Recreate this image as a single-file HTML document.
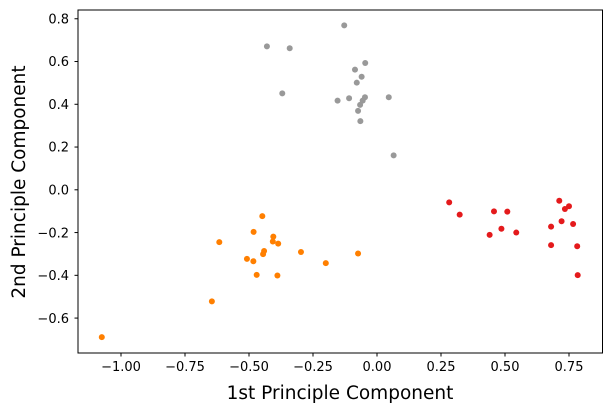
<!DOCTYPE html>
<html><head><meta charset="utf-8"><style>
body{margin:0;background:#fff;font-family:"Liberation Sans","DejaVu Sans",sans-serif}
svg text{font-family:"DejaVu Sans","Liberation Sans",sans-serif}
</style></head><body>
<svg id="chart" width="611" height="411">
<rect x="78" y="10" width="524.5" height="343" fill="none" stroke="#000" stroke-width="1"/>
<g id="marks"></g><g id="axes"></g>
<text x="340" y="399" font-size="18.5" text-anchor="middle">1st Principle Component</text>
<text transform="translate(25,182) rotate(-90)" font-size="18.5" text-anchor="middle">2nd Principle Component</text>
</svg>
<script>
const grayX=[-0.128,-0.430,-0.341,-0.046,-0.086,-0.060,-0.079,-0.370,-0.154,-0.109,-0.047,-0.056,-0.066,0.046,-0.074,-0.065,0.065];
const grayY=[0.769,0.671,0.662,0.593,0.562,0.529,0.501,0.451,0.417,0.428,0.433,0.417,0.397,0.433,0.369,0.321,0.161];
const orangeX=[-0.448,-0.482,-0.405,-0.407,-0.386,-0.616,-0.441,-0.445,-0.297,-0.508,-0.483,-0.074,-0.200,-0.470,-0.389,-0.645,-1.075];
const orangeY=[-0.123,-0.197,-0.219,-0.242,-0.252,-0.245,-0.286,-0.301,-0.291,-0.323,-0.334,-0.298,-0.343,-0.398,-0.401,-0.522,-0.689];
const redX=[0.282,0.323,0.457,0.509,0.486,0.440,0.544,0.712,0.734,0.750,0.721,0.766,0.680,0.680,0.782,0.784];
const redY=[-0.059,-0.116,-0.101,-0.102,-0.182,-0.211,-0.200,-0.051,-0.090,-0.077,-0.147,-0.160,-0.172,-0.259,-0.264,-0.399];
const xTicks=[-1.00,-0.75,-0.50,-0.25,0.00,0.25,0.50,0.75];
const xTickLabels=["−1.00","−0.75","−0.50","−0.25","0.00","0.25","0.50","0.75"];
const yTicks=[-0.6,-0.4,-0.2,0.0,0.2,0.4,0.6,0.8];
const yTickLabels=["−0.6","−0.4","−0.2","0.0","0.2","0.4","0.6","0.8"];
const NS="http://www.w3.org/2000/svg";
const sx=v=>377+v*256, sy=v=>189.8-v*213.8;
const marks=document.getElementById('marks'), axes=document.getElementById('axes');
function series(xs,ys,color,name){
  xs.forEach((x,i)=>{
    const c=document.createElementNS(NS,'circle');
    c.setAttribute('cx',sx(x));c.setAttribute('cy',sy(ys[i]));c.setAttribute('r',3);c.setAttribute('fill',color);
    
    
    marks.appendChild(c);
  });
}
series(grayX,grayY,'#999999','gray-cluster');
series(orangeX,orangeY,'#ff7f00','orange-cluster');
series(redX,redY,'#e41a1c','red-cluster');
xTicks.forEach((v,i)=>{
  const x=sx(v);
  const l=document.createElementNS(NS,'line');
  l.setAttribute('x1',x);l.setAttribute('x2',x);l.setAttribute('y1',353);l.setAttribute('y2',356.5);l.setAttribute('stroke','#000');
  
  
  axes.appendChild(l);
  const t=document.createElementNS(NS,'text');
  t.setAttribute('x',x);t.setAttribute('y',371);t.setAttribute('font-size','13');t.setAttribute('text-anchor','middle');
  t.textContent=xTickLabels[i];
  
  
  axes.appendChild(t);
});
yTicks.forEach((v,i)=>{
  const y=sy(v);
  const l=document.createElementNS(NS,'line');
  l.setAttribute('x1',74.5);l.setAttribute('x2',78);l.setAttribute('y1',y);l.setAttribute('y2',y);l.setAttribute('stroke','#000');
  
  
  axes.appendChild(l);
  const t=document.createElementNS(NS,'text');
  t.setAttribute('x',69);t.setAttribute('y',y+4.7);t.setAttribute('font-size','13');t.setAttribute('text-anchor','end');
  t.textContent=yTickLabels[i];
  
  
  axes.appendChild(t);
});
</script>
</body></html>
